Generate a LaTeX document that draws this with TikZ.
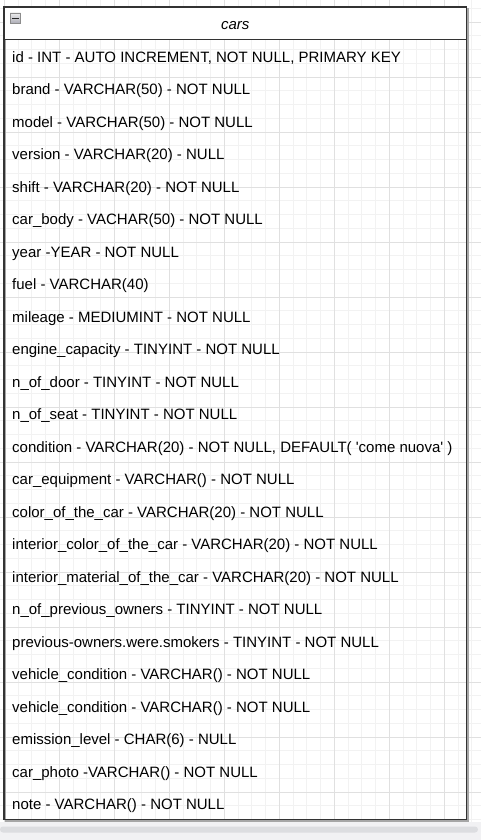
\documentclass[tikz,border=0pt]{standalone}
\usepackage{fontspec}
\setmainfont{Liberation Sans}
\definecolor{gridminor}{HTML}{F2F2F2}
\definecolor{gridmajor}{HTML}{E0E0E0}
\definecolor{frame}{HTML}{333333}
\definecolor{barbg}{HTML}{F1F1F3}
\definecolor{barfg}{HTML}{DCDDE0}
\begin{document}
\begin{tikzpicture}[x=1pt,y=-1pt,
  field/.style={anchor=base west,inner sep=0pt,font=\fontsize{15}{18}\selectfont,text=black},
  titletext/.style={anchor=base,inner sep=0pt,font=\fontsize{15}{18}\selectfont\itshape,text=black}]
\useasboundingbox (0,0) rectangle (481,840);
\fill[white] (0,0) rectangle (481,840);
% background grid: minor every 13.75, major every 55
\foreach \k in {0,...,35} {
  \draw[gridminor,line width=0.8pt] ({4.3+13.75*(\k-1)},0) -- ({4.3+13.75*(\k-1)},822);
}
\foreach \k in {0,...,61} {
  \draw[gridminor,line width=0.8pt] (0,{22+13.75*(\k-2)}) -- (481,{22+13.75*(\k-2)});
}
\foreach \k in {0,...,8} {
  \draw[gridmajor,line width=0.8pt] ({4.3+55*\k},0) -- ({4.3+55*\k},822);
}
\foreach \k in {0,...,15} {
  \draw[gridmajor,line width=0.8pt] (0,{22+55*\k}) -- (481,{22+55*\k});
}
% scroll bar strip
\fill[barbg] (0,822) rectangle (481,840);
\fill[barfg,rounded corners=3pt] (0,826.5) rectangle (478,832.5);
% table frame with shadow
\draw[gray!70,line width=1.2pt] (5.5,8.5) rectangle (468,821);
\fill[white] (4,7) rectangle (466.5,39.5);
\draw[frame,line width=1.3pt] (4,7) rectangle (466.5,819.5);
\draw[frame,line width=1.3pt] (4,39.5) -- (466.5,39.5);
% collapse icon
\shade[top color=gray!15,bottom color=black!35!blue!10!gray!60] (10,13) rectangle (20.5,23.5);
\draw[black!45,line width=0.6pt] (10,13) rectangle (20.5,23.5);
\draw[black!85,line width=1.5pt] (12,18.3) -- (18.5,18.3);
% title
\node[titletext] (title) at (235.3,29.3) {cars};
% fields (baselines 32.5 apart)
\node[field] (r1)  at (12,62.3)  {id - INT - AUTO INCREMENT, NOT NULL, PRIMARY KEY};
\node[field] (r2)  at (12,94.8)  {brand - VARCHAR(50) - NOT NULL};
\node[field] (r3)  at (12,127.3) {model - VARCHAR(50) - NOT NULL};
\node[field] (r4)  at (12,159.8) {version - VARCHAR(20) - NULL};
\node[field] (r5)  at (12,192.3) {shift - VARCHAR(20) - NOT NULL};
\node[field] (r6)  at (12,224.8) {car\_body - VACHAR(50) - NOT NULL};
\node[field] (r7)  at (12,257.3) {year -YEAR - NOT NULL};
\node[field] (r8)  at (12,289.8) {fuel - VARCHAR(40)};
\node[field] (r9)  at (12,322.3) {mileage - MEDIUMINT - NOT NULL};
\node[field] (r10) at (12,354.8) {engine\_capacity - TINYINT - NOT NULL};
\node[field] (r11) at (12,387.3) {n\_of\_door - TINYINT - NOT NULL};
\node[field] (r12) at (12,419.8) {n\_of\_seat - TINYINT - NOT NULL};
\node[field] (r13) at (12,452.3) {condition - VARCHAR(20) - NOT NULL, DEFAULT( \textquotesingle come nuova\textquotesingle\ )};
\node[field] (r14) at (12,484.8) {car\_equipment - VARCHAR() - NOT NULL};
\node[field] (r15) at (12,517.3) {color\_of\_the\_car - VARCHAR(20) - NOT NULL};
\node[field] (r16) at (12,549.8) {interior\_color\_of\_the\_car - VARCHAR(20) - NOT NULL};
\node[field] (r17) at (12,582.3) {interior\_material\_of\_the\_car - VARCHAR(20) - NOT NULL};
\node[field] (r18) at (12,614.8) {n\_of\_previous\_owners - TINYINT - NOT NULL};
\node[field] (r19) at (12,647.3) {previous-owners.were.smokers - TINYINT - NOT NULL};
\node[field] (r20) at (12,679.8) {vehicle\_condition - VARCHAR() - NOT NULL};
\node[field] (r21) at (12,712.3) {vehicle\_condition - VARCHAR() - NOT NULL};
\node[field] (r22) at (12,744.8) {emission\_level - CHAR(6) - NULL};
\node[field] (r23) at (12,777.3) {car\_photo -VARCHAR() - NOT NULL};
\node[field] (r24) at (12,809.8) {note - VARCHAR() - NOT NULL};
\end{tikzpicture}
\end{document}
